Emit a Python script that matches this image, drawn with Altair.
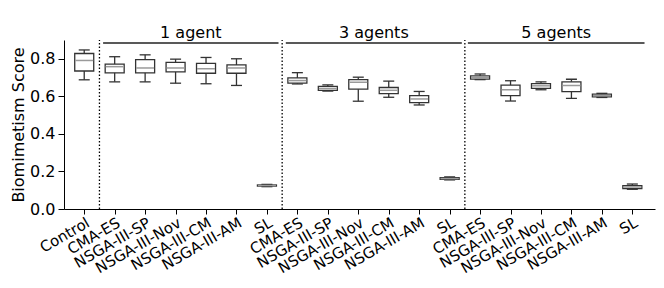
import altair as alt
import pandas as pd

labels = ["Control",
          "CMA-ES", "NSGA-III-SP", "NSGA-III-Nov", "NSGA-III-CM", "NSGA-III-AM", "SL",
          "CMA-ES", "NSGA-III-SP", "NSGA-III-Nov", "NSGA-III-CM", "NSGA-III-AM", "SL",
          "CMA-ES", "NSGA-III-SP", "NSGA-III-Nov", "NSGA-III-CM", "NSGA-III-AM", "SL"]
whisker_low = [0.688,
               0.677, 0.677, 0.670, 0.667, 0.658, 0.119,
               0.666, 0.628, 0.574, 0.595, 0.554, 0.155,
               0.689, 0.575, 0.635, 0.589, 0.594, 0.105]
q1 = [0.735,
      0.725, 0.725, 0.730, 0.723, 0.723, 0.122,
      0.670, 0.632, 0.638, 0.614, 0.567, 0.158,
      0.692, 0.604, 0.642, 0.625, 0.597, 0.108]
median = [0.791,
          0.758, 0.751, 0.751, 0.747, 0.751, 0.125,
          0.684, 0.642, 0.675, 0.632, 0.586, 0.162,
          0.700, 0.635, 0.656, 0.658, 0.604, 0.117]
q3 = [0.828,
      0.772, 0.795, 0.781, 0.775, 0.767, 0.128,
      0.698, 0.653, 0.689, 0.647, 0.604, 0.167,
      0.709, 0.660, 0.668, 0.677, 0.612, 0.125]
whisker_high = [0.847,
                0.811, 0.821, 0.798, 0.807, 0.800, 0.131,
                0.726, 0.661, 0.702, 0.681, 0.626, 0.171,
                0.719, 0.683, 0.677, 0.691, 0.616, 0.133]

groups = ["1 agent", "3 agents", "5 agents"]
group_start = [0.62, 6.62, 12.6]
group_end = [6.38, 12.4, 18.4]
separators = [0.5, 6.5, 12.5]

df = pd.DataFrame({
    "pos": list(range(len(labels))),
    "label": labels,
    "wlo": whisker_low, "q1": q1, "med": median, "q3": q3, "whi": whisker_high,
})
gdf = pd.DataFrame({"group": groups, "x0": group_start, "x1": group_end,
                    "xc": [(a + b) / 2 for a, b in zip(group_start, group_end)]})
sdf = pd.DataFrame({"sep": separators})

label_expr = "[" + ",".join('"%s"' % l for l in labels) + "][datum.value]"

FONT = "DejaVu Sans"
EDGE = "#333333"

x_scale = alt.Scale(domain=[-0.5, 18.58], nice=False, zero=False)
y_scale = alt.Scale(domain=[0, 0.9], nice=False, zero=False)

x_axis = alt.Axis(
    values=list(range(len(labels))), labelExpr=label_expr, labelAngle=-30,
    labelAlign="right", labelBaseline="top", labelFontSize=15, labelFont=FONT,
    labelColor="black", title=None, grid=False, domainColor="black", tickColor="black",
    tickSize=5, labelPadding=1, labelOverlap=False, labelFlush=False, labelBound=False)

y_axis = alt.Axis(values=[0, 0.2, 0.4, 0.6, 0.8], format=".1f", labelFontSize=16,
                  labelFont=FONT, labelColor="black", title="Biomimetism Score",
                  titleFontSize=16, titleFont=FONT, titleFontWeight="normal",
                  titleColor="black", grid=False, domainColor="black",
                  tickColor="black", tickSize=6, titlePadding=3, labelPadding=3)


def X(field):
    return alt.X(field, scale=x_scale, axis=x_axis, title=None)


def Y(field):
    return alt.Y(field, scale=y_scale, axis=y_axis)


base = alt.Chart(df)

whisk = base.mark_rule(color=EDGE, strokeWidth=1.3).encode(
    x=X("pos:Q"), y=Y("wlo:Q"), y2="whi:Q")
cap_lo = base.mark_tick(orient="horizontal", size=11, thickness=1.3, color=EDGE, opacity=1).encode(
    x=X("pos:Q"), y=Y("wlo:Q"))
cap_hi = base.mark_tick(orient="horizontal", size=11, thickness=1.3, color=EDGE, opacity=1).encode(
    x=X("pos:Q"), y=Y("whi:Q"))
box = base.mark_bar(size=19, fill="white", stroke=EDGE, strokeWidth=1.3).encode(
    x=X("pos:Q"), y=Y("q1:Q"), y2="q3:Q")
med = base.mark_tick(orient="horizontal", size=18, thickness=1.5, color="#9a9a9a", opacity=1).encode(
    x=X("pos:Q"), y=Y("med:Q"))

seps = alt.Chart(sdf).mark_rule(color="black", strokeDash=[1.5, 2], strokeWidth=1.3).encode(
    x=X("sep:Q"), y=alt.datum(0), y2=alt.datum(0.9))

glines = alt.Chart(gdf).mark_rule(color="#222222", strokeWidth=1.6).encode(
    x=X("x0:Q"), x2="x1:Q", y=alt.datum(0.884))
gtext = alt.Chart(gdf).mark_text(fontSize=16, font=FONT, color="black", baseline="bottom").encode(
    x=X("xc:Q"), y=alt.datum(0.895), text="group:N")

chart = alt.layer(whisk, cap_lo, cap_hi, box, med, seps, glines, gtext).properties(
    width=591, height=169,
    autosize=alt.AutoSizeParams(type="none"),
    padding={"left": 56, "top": 32, "right": 1, "bottom": 70},
).configure_view(stroke=None)

chart.save("out.html", embed_options={"renderer": "svg", "actions": False})
